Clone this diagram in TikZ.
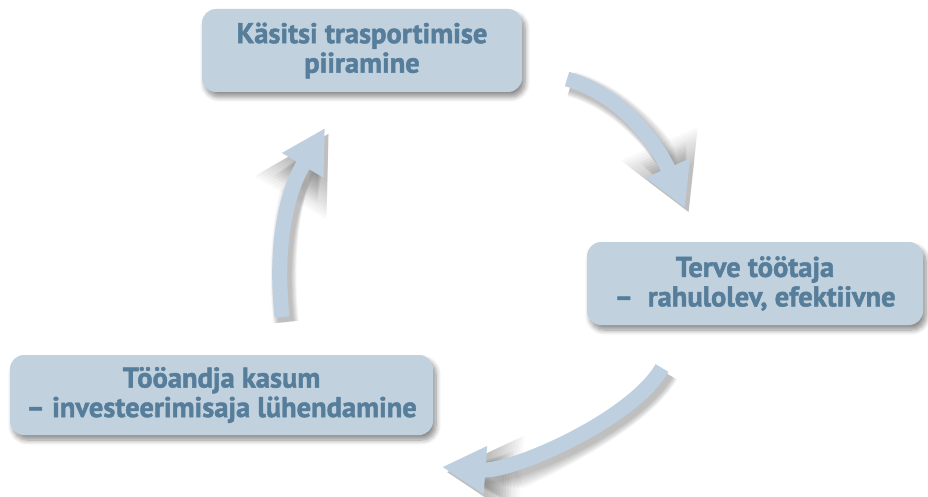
\documentclass[tikz,border=0pt]{standalone}
\usepackage{fontspec}
\setmainfont{PT Sans}[BoldFeatures={FakeBold=1.6}]
\usetikzlibrary{arrows.meta,shadows.blur}
\definecolor{boxfill}{RGB}{193,209,222}
\definecolor{boxtext}{RGB}{86,125,154}
\definecolor{arrowfill}{RGB}{190,208,224}
\tikzset{
  cyclebox/.style={rounded corners=14pt, fill=boxfill, draw=none, align=center,
    text=boxtext, font=\bfseries\fontsize{28.5}{29.5}\selectfont, inner sep=0pt,
    blur shadow={shadow xshift=3pt, shadow yshift=-5pt, shadow blur steps=8,
      shadow opacity=45, shadow blur radius=5pt}},
  cyclearrow/.style={draw=arrowfill, line width=15pt,
    -{Triangle[length=0pt 2.9, width=0pt 3]}},
  arrowshade/.style={draw=black, opacity=0.022, line width=#1,
    -{Triangle[length=0pt 2.9, width=0pt 3]},
    transform canvas={shift={(4pt,-5pt)}}},
}
\begin{document}
\begin{tikzpicture}[x=1pt,y=-1pt]
\useasboundingbox (0,0) rectangle (928,497);
% boxes
\node[cyclebox, minimum width=320pt, minimum height=83pt] (top) at (362,50.5)
  {Käsitsi trasportimise\\piiramine};
\node[cyclebox, minimum width=336pt, minimum height=83pt] (right) at (755,283.5)
  {Terve töötaja\\–\ \ rahulolev, efektiivne};
\node[cyclebox, minimum width=423pt, minimum height=80pt] (left) at (221.5,395)
  {Tööandja kasum\\– investeerimisaja lühendamine};
% arrow geometry
\coordinate (a1s) at (567,79);  \coordinate (a1c) at (625,95);
\coordinate (a1d) at (660,150); \coordinate (a1e) at (685,208);
\coordinate (a2s) at (662,368); \coordinate (a2c) at (632,420);
\coordinate (a2d) at (512,472); \coordinate (a2e) at (442,467);
\coordinate (a3s) at (282,317); \coordinate (a3c) at (274,240);
\coordinate (a3d) at (288,190); \coordinate (a3e) at (325,128);
% shadows
\foreach \w in {26,25,...,15}{
  \draw[arrowshade=\w pt] (a1s) .. controls (a1c) and (a1d) .. (a1e);
  \draw[arrowshade=\w pt] (a2s) .. controls (a2c) and (a2d) .. (a2e);
  \draw[arrowshade=\w pt] (a3s) .. controls (a3c) and (a3d) .. (a3e);
}
% arrows
\draw[cyclearrow] (a1s) .. controls (a1c) and (a1d) .. (a1e);
\draw[cyclearrow] (a2s) .. controls (a2c) and (a2d) .. (a2e);
\draw[cyclearrow] (a3s) .. controls (a3c) and (a3d) .. (a3e);
\end{tikzpicture}
\end{document}
